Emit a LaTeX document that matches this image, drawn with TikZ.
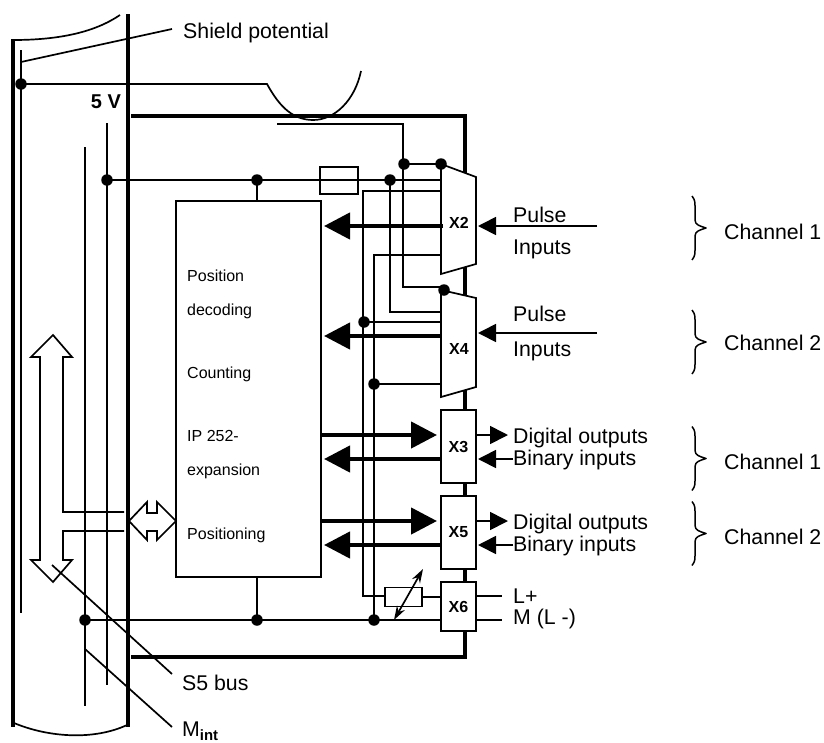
\documentclass[tikz,border=0pt]{standalone}
\usepackage{fontspec}
\setmainfont{Liberation Sans}
\usetikzlibrary{arrows.meta}
\tikzset{
  wire/.style={line width=1.7pt,line cap=butt},
  thick wall/.style={line width=4.8pt},
  busline/.style={line width=4.4pt},
  dotn/.style={circle,fill=black,inner sep=0pt,minimum size=11.5pt},
  conn/.style={draw=black,fill=white,line width=1.7pt},
  lab/.style={anchor=west,inner sep=0pt,font=\fontsize{21.3}{22}\selectfont},
  blab/.style={anchor=center,inner sep=0pt,font=\fontsize{16}{17}\bfseries\selectfont},
  small/.style={anchor=west,inner sep=0pt,font=\fontsize{16}{18}\selectfont},
  bighead/.style={-{Triangle[length=26pt,width=26pt]}},
  smallhead/.style={-{Triangle[length=18pt,width=18pt]}},
  chbrace/.pic={\draw[line width=1.5pt,line join=round] (-8,-32) .. controls (-5,-28) and (-5,-26) .. (-5,-22) -- (-5,-8) .. controls (-5,-3) and (0,-2) .. (6,0) .. controls (0,2) and (-5,3) .. (-5,8) -- (-5,22) .. controls (-5,26) and (-5,28) .. (-8,32);},
}
\begin{document}
\begin{tikzpicture}[x=1pt,y=-1pt]
\useasboundingbox (0,0) rectangle (824,742);
% named anchors
\coordinate (shieldE) at (172,29);
\coordinate (shieldS) at (21,62);
\coordinate (s5E) at (172,674);
\coordinate (s5S) at (52,565);
\coordinate (miE) at (172,727);
\coordinate (miS) at (85,649);
% module housing
\draw[thick wall] (131,116) -- (465,116) -- (465,657) -- (131,657);
% rack walls
\draw[thick wall] (13,39) -- (13,727);
\draw[thick wall] (128,14) -- (128,727);
\draw[wire] (13,40) .. controls (60,40) and (95,32) .. (120,15);
\draw[wire] (14,723) .. controls (50,738) and (95,740) .. (127,725);
\draw[wire] (21,50) -- (21,613);
\draw[wire] (shieldS) -- (shieldE);
\draw[wire] (85,147) -- (85,706);
\draw[wire] (107,123) -- (107,685);
% shield and coil
\node[dotn] (d1) at (21,84) {};
\draw[wire] (d1.center) -- (267,84) .. controls (277,102) and (290,120) .. (313,120) .. controls (335,120) and (355,100) .. (361,71);
\draw[wire] (277,124) -- (403,124) -- (403,287) -- (444,287);
% supply
\node[dotn] (d2) at (107,180) {};
\node[dotn] (d3) at (257,180) {};
\node[dotn] (d4) at (390,180) {};
\node[dotn] (d5) at (404,164) {};
\draw[wire] (d2.center) -- (440,180);
\draw[wire] (d5.center) -- (441,164);
\draw[wire] (d4.center) -- (390,312) -- (441,312);
\draw[wire] (441,191) -- (363,191) -- (363,596) -- (385,596);
\draw[wire] (441,255) -- (374,255) -- (374,620);
\draw[wire] (364,322) -- (441,322);
\draw[wire] (374,384) -- (441,384);
\node[dotn] (d7) at (364,322) {};
\node[dotn] (d8) at (374,384) {};
\node[draw=black,line width=1.7pt,minimum width=38pt,minimum height=27pt,inner sep=0pt] (fuse) at (339,180.5) {};
% central block
\node[draw=black,fill=white,line width=1.7pt,minimum width=145pt,minimum height=376pt,inner sep=0pt] (cpu) at (248.5,389) {};
\draw[wire] (d3.center) -- (cpu.north -| d3);
% bottom rail
\node[dotn] (d9) at (85,620) {};
\node[dotn] (d10) at (257,620) {};
\node[dotn] (d11) at (374,620) {};
\draw[wire] (d9.center) -- (441,620);
\draw[wire] (cpu.south -| d10) -- (d10.center);
% connectors
\draw[conn] (441,164) -- (476,177) -- (476,264) -- (441,274) -- cycle;
\draw[conn] (441,290) -- (476,298) -- (476,387) -- (441,397) -- cycle;
\node[conn,minimum width=35pt,minimum height=73pt,inner sep=0pt,blab] (x3) at (458.5,446.5) {X3};
\node[conn,minimum width=35pt,minimum height=73pt,inner sep=0pt,blab] (x5) at (458.5,532.5) {X5};
\node[conn,minimum width=35pt,minimum height=49pt,inner sep=0pt,blab] (x6) at (458.5,606.5) {X6};
\node[blab] (x2) at (459,223) {X2};
\node[blab] (x4) at (459,349) {X4};
\node[dotn] (d6) at (441,164) {};
\node[dotn] (d12) at (444,290) {};
% thick signal arrows
\draw[busline,bighead] (443,226) -- (324,226);
\draw[busline,bighead] (441,336) -- (324,336);
\draw[busline,bighead] (cpu.east |- 0,435) -- (437,435);
\draw[busline,bighead] (x3.west |- 0,459) -- (324,459);
\draw[busline,bighead] (cpu.east |- 0,521) -- (437,521);
\draw[busline,bighead] (x5.west |- 0,545) -- (324,545);
% external signals
\coordinate (inA) at (597,226);
\coordinate (inB) at (597,333);
\draw[wire,smallhead] (inA) -- (478,226);
\draw[wire,smallhead] (inB) -- (478,333);
\draw[wire,smallhead] (x3.east |- 0,435) -- (508,435);
\draw[wire,smallhead] (513,459) -- (478,459);
\draw[wire,smallhead] (x5.east |- 0,521) -- (508,521);
\draw[wire,smallhead] (513,545) -- (478,545);
\draw[wire] (x6.east |- 0,596) -- (502,596);
\draw[wire] (x6.east |- 0,620) -- (502,620);
% resistor
\node[draw=black,fill=white,line width=1.7pt,minimum width=37pt,minimum height=19pt,inner sep=0pt] (res) at (403.5,597) {};
\draw[wire] (res.east) -- (x6.west |- res);
\draw[line width=1.7pt,{Stealth[length=14pt,width=9pt]}-{Stealth[length=14pt,width=9pt]}] (394,620) -- (423,569);
% S5 bus arrow
\draw[wire,line join=miter] (124,512) -- (63,512) -- (63,357) -- (72,357) -- (53,335) -- (31,357) -- (40,357) -- (40,560) -- (31,560) -- (53,582) -- (72,560) -- (63,560) -- (63,531) -- (124,531);
\draw[wire,line join=miter] (129,521) -- (147,502) -- (147,513) -- (157,513) -- (157,502) -- (176,521) -- (157,540) -- (157,531) -- (147,531) -- (147,540) -- cycle;
% leaders
\draw[wire] (s5S) -- (s5E);
\draw[wire] (miS) -- (miE);
% braces
\pic at (700,228) {chbrace};
\pic at (700,342) {chbrace};
\pic at (700,458.5) {chbrace};
\pic at (700,533.5) {chbrace};
% texts
\node[lab] (t1) at (183,33) {Shield potential};
\node[anchor=center,inner sep=0pt,font=\fontsize{20}{21}\bfseries\selectfont] (t2) at (106,102) {5 V};
\node[lab] at (182,683) {S5 bus};
\node[lab] at (182,731) {M\textsubscript{\textbf{int}}};
\node[small] at (187,276) {Position};
\node[small] at (187,311) {decoding};
\node[small] at (187,374) {Counting};
\node[small] at (187,436) {IP 252-};
\node[small] at (187,471) {expansion};
\node[small] at (187,535) {Positioning};
\node[lab] at (513,215) {Pulse};
\node[lab] at (513,249) {Inputs};
\node[lab] at (513,314) {Pulse};
\node[lab] at (513,351) {Inputs};
\node[lab] at (513,438) {Digital outputs};
\node[lab] at (513,460) {Binary inputs};
\node[lab] at (513,524) {Digital outputs};
\node[lab] at (513,546) {Binary inputs};
\node[lab] at (513,596) {L+};
\node[lab] at (513,619) {M (L -)};
\node[lab] at (724,232) {Channel 1};
\node[lab] at (724,343) {Channel 2};
\node[lab] at (724,462) {Channel 1};
\node[lab] at (724,537) {Channel 2};
\end{tikzpicture}
\end{document}
